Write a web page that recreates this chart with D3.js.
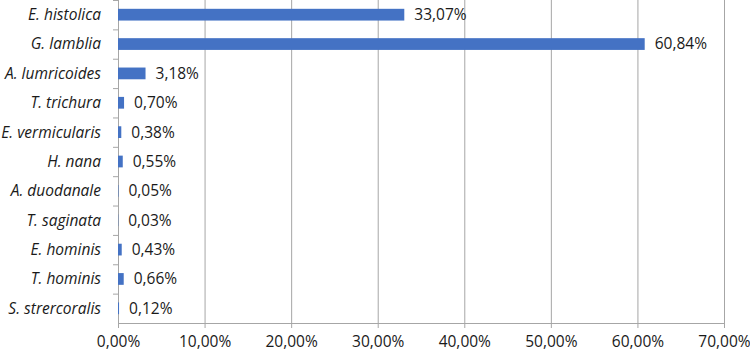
<!DOCTYPE html>
<html>
<head>
<meta charset="utf-8">
<script src="https://cdn.jsdelivr.net/npm/d3@7"></script>
<style>
  body { margin: 0; background: #fff; }
  svg { display: block; font-family: "Open Sans", Lato, sans-serif; }
</style>
</head>
<body>
<svg id="chart" width="750" height="353"></svg>
<script>
var species = ["E. histolica", "G. lamblia", "A. lumricoides", "T. trichura", "E. vermicularis",
  "H. nana", "A. duodanale", "T. saginata", "E. hominis", "T. hominis", "S. strercoralis"];
var percents = [33.07, 60.84, 3.18, 0.70, 0.38, 0.55, 0.05, 0.03, 0.43, 0.66, 0.12];
var xTicks = [0, 10, 20, 30, 40, 50, 60, 70];

var margin = { top: 0, right: 26, bottom: 30, left: 118 },
  width = 750 - margin.left - margin.right,
  height = 353 - margin.top - margin.bottom;

var svg = d3.select("#chart");
var canvas = svg.append("g")
  .attr("transform", "translate(" + margin.left + "," + margin.top + ")");

var fmt = function(v) { return v.toFixed(2).replace(".", ",") + "%"; };

var xScale = d3.scaleLinear().domain([0, 70]).range([0, width]);
var yScale = d3.scaleBand().domain(species).range([0, height]).paddingInner(0.6).paddingOuter(0.3);
var bandScale = d3.scaleBand().domain(species).range([0, height]);

// vertical gridlines
canvas.selectAll(".grid")
  .data(xTicks.slice(1))
  .enter().append("line")
  .attr("x1", function(d) { return xScale(d) + 0.5; })
  .attr("x2", function(d) { return xScale(d) + 0.5; })
  .attr("y1", 0)
  .attr("y2", height)
  .style("stroke", "#a6a6a6")
  .style("stroke-width", 1);

// x axis
var xAxis = canvas.append("g")
  .attr("transform", "translate(0," + height + ")")
  .call(d3.axisBottom(xScale).tickValues(xTicks).tickSize(5).tickFormat(fmt));
xAxis.selectAll("path, line").style("stroke", "#a6a6a6");
xAxis.selectAll("text")
  .attr("dy", "1.0em")
  .style("font-family", "'Open Sans', sans-serif")
  .style("font-size", "15.5px")
  .style("fill", "#1a1a1a");

// y axis line + ticks at band edges
canvas.append("line")
  .attr("x1", 0.5).attr("x2", 0.5)
  .attr("y1", 0).attr("y2", height + 5)
  .style("stroke", "#a6a6a6");
canvas.selectAll(".ytick")
  .data(species)
  .enter().append("line")
  .attr("x1", -5).attr("x2", 0)
  .attr("y1", function(d) { return bandScale(d) + 0.5; })
  .attr("y2", function(d) { return bandScale(d) + 0.5; })
  .style("stroke", "#a6a6a6");

// category labels
canvas.selectAll(".label")
  .data(species)
  .enter().append("text")
  .attr("x", -17)
  .attr("y", function(d) { return bandScale(d) + bandScale.bandwidth() / 2; })
  .attr("dy", "0.35em")
  .style("text-anchor", "end")
  .style("font-style", "italic")
  .style("font-size", "15.5px")
  .style("fill", "#1a1a1a")
  .text(function(d) { return d; });

// bars
canvas.selectAll(".bar")
  .data(species)
  .enter().append("rect")
  .attr("x", 0)
  .attr("y", function(d) { return yScale(d); })
  .attr("width", function(d, i) { return xScale(percents[i]); })
  .attr("height", yScale.bandwidth())
  .style("fill", "#4472c4");

// value labels
canvas.selectAll(".value")
  .data(species)
  .enter().append("text")
  .attr("x", function(d, i) { return xScale(percents[i]) + 10; })
  .attr("y", function(d) { return bandScale(d) + bandScale.bandwidth() / 2; })
  .attr("dy", "0.35em")
  .style("font-size", "15.5px")
  .style("fill", "#1a1a1a")
  .text(function(d, i) { return fmt(percents[i]); });
</script>
</body>
</html>
